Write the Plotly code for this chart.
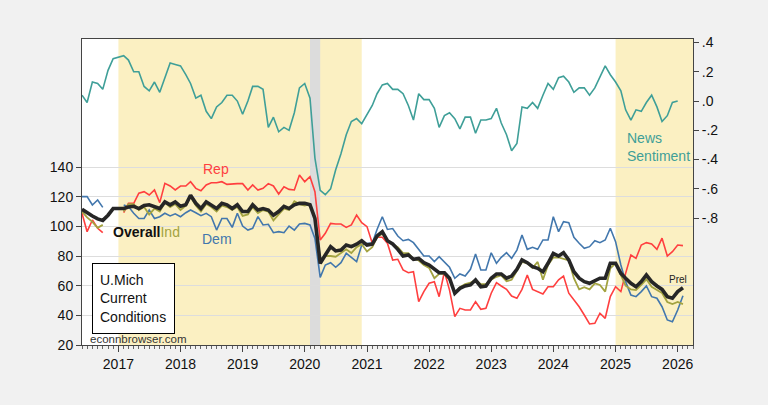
import plotly.graph_objects as go
import pandas as pd

months = pd.date_range("2016-06-01", "2026-02-01", freq="MS")

overall = [111.5, 109, 107, 105, 104, 107.5, 112, 112, 112, 113, 113.5, 112, 114, 114.5, 113.5, 112,
           116.5, 114.5, 116.5, 113.5, 114.5, 121, 115.5, 112, 116.5, 114.5, 112, 115.5, 114.5, 112,
           114.5, 110, 110, 114.5, 111, 112, 111, 107.5, 110, 113.5, 112, 114.5, 115.5, 115.5, 114.5,
           105.4, 75, 80.7, 86.3, 83.4, 84, 87.4, 86.3, 88, 90.3, 87.4, 88, 93.5, 96.4, 90.3, 88.1,
           84.5, 80, 80.7, 77.8, 78.4, 75.5, 73.9, 71, 68.7, 68.7, 65, 54.9, 58.2, 59.8, 60.5, 63.8,
           59.3, 59.8, 65, 67.9, 67.9, 65, 66.5, 71, 77.3, 75.5, 72.8, 71.7, 69.4, 75.1, 81.8, 80,
           82.2, 77.3, 69.4, 65, 62.7, 61.6, 63.4, 65, 65, 75.1, 75.1, 68.3, 65, 61.6, 59.3, 62.7,
           67.2, 62.7, 59.8, 57.5, 52.6, 51.5, 56, 58.6]

ind = [110, 106, 103, 99, 101, None, None, None, 110, 115, 115, 111, 113, 108, 112, 110,
       116, 113, 115, 111, 114, 120, 114, 110, 115, 113, 110, 114, 113, 111,
       113, 107, 108, 113, 109, 111, 110, 104, 108, 112, 111, 117, 115, 114, 115,
       106, 78, 80, 80, 79.5, 82, 84.5, 82, 86, 88, 83, 86, 92.6, 95, 90, 88,
       86, 82, 82, 78, 77, 74, 72, 65, 68, 68, 64, 55, 59, 61, 62, 64,
       61, 61, 64, 66, 67, 63, 64, 70, 76, 75, 72, 76, 64, 74, 79, 79,
       78, 77, 65, 57.5, 59, 57.5, 61.6, 60.5, 56, 71.7, 75, 67, 60, 57.5, 57, 60.5,
       64.3, 59.3, 57, 55, 49, 47.6, 49, 47.6]

rep = [108.8, 96.4, 104.3, 98.7, 95.7, None, None, None, 109.2, 115.5, 115.5, 122.3, 123.4, 121.1, 124.5, 116,
       129, 127.2, 124.5, 127.2, 127.2, 130.1, 125.6, 124, 127.9, 129.4, 129.4, 130.1, 128.3, 128.8,
       128.8, 128.8, 124.5, 127.9, 124.5, 125.6, 128.8, 127.2, 121.8, 126.6, 124.9, 124.5, 134.6, 130.1, 133.5,
       123.4, 90.8, 95.3, 102, 101.6, 101.6, 99.3, 100.9, 107.6, 102.5, 99.8, 88.6, 92.6, 92.6, 88.6, 77.3,
       77.8, 70.6, 68.7, 69.4, 49.2, 56, 61.6, 62.7, 52.6, 69.4, 57, 39.1, 44.7, 43.6, 43.6, 49.2,
       44.1, 44.7, 54.9, 62, 59.8, 57.5, 53, 51.5, 57.5, 67.2, 57.5, 56, 54.4, 59.3, 59.3, 64,
       66.5, 54.9, 50.3, 45.8, 40.2, 34.2, 34.6, 41.4, 38, 52.6, 59.3, 56, 68.3, 80.7, 78.4, 87.4,
       89, 88.1, 84.5, 92, 80, 82.9, 87.4, 87]

dem = [120, 120, 114.4, 117.8, 112.8, None, None, None, 114.4, 113.3, 108.8, 105.3, 105.3, 111, 105.3, 106.5,
       108.8, 107, 108.4, 106.5, 109.2, 111, 109.2, 107.2, 108.8, 106.5, 97.5, 105.3, 105.3, 99.3,
       108.8, 100.2, 97.5, 98.7, 106.5, 100.9, 101.4, 95.7, 96.4, 95.7, 100.2, 97.5, 101.6, 102, 100.9,
       91.9, 65.6, 73.9, 75.5, 72.4, 75.5, 81.8, 79.1, 76.2, 87.4, 88.6, 88.6, 97.9, 106.5, 97.9, 98.5,
       93.5, 90.3, 91.2, 89, 84.5, 80, 80, 76.2, 79.5, 76.2, 72.4, 65, 67.9, 66.5, 71, 81.3,
       70.6, 70.6, 82.2, 75.1, 79.1, 82.2, 78.4, 84, 94.2, 84.5, 85.9, 84.5, 90.8, 90.8, 106.5, 96.4,
       103.1, 102.5, 92.6, 88.6, 85.2, 86.3, 90.3, 89, 90.8, 98.7, 89.7, 73.9, 62.7, 53.7, 52.6, 56,
       59.8, 52.6, 51.5, 45.8, 36.9, 35.7, 43.6, 53.2]

news = [0.04, -0.01, 0.13, 0.12, 0.08, 0.21, 0.29, 0.30, 0.31, 0.28, 0.20, 0.20, 0.10, 0.07, 0.13, 0.06,
        0.16, 0.26, 0.25, 0.24, 0.18, 0.12, 0.02, 0.04, -0.07, -0.12, -0.04, -0.01, 0.04, 0.04,
        0.00, -0.09, 0.00, 0.10, 0.10, 0.08, -0.18, -0.11, -0.21, -0.18, -0.20, -0.08, 0.09, 0.12, 0.02,
        -0.39, -0.61, -0.64, -0.60, -0.47, -0.36, -0.23, -0.14, -0.12, -0.155, -0.09, -0.03, 0.05, 0.11, 0.12, 0.08,
        0.08, 0.05, -0.03, -0.13, 0.05, 0.01, 0.01, -0.05, -0.18, -0.10, -0.08, -0.12, -0.19, -0.11, -0.11, -0.22,
        -0.13, -0.13, -0.12, -0.05, -0.15, -0.23, -0.34, -0.29, -0.04, -0.05, -0.01, -0.05, 0.04, 0.12, 0.08, 0.16,
        0.17, 0.13, 0.06, 0.09, 0.09, 0.04, 0.09, 0.16, 0.24, 0.18, 0.13, 0.07, -0.06, -0.13, -0.06, -0.07,
        -0.01, 0.04, -0.04, -0.14, -0.10, -0.01, 0.00, None]

left_ticks = [20, 40, 60, 80, 100, 120, 140]
right_ticks = [0.4, 0.2, 0.0, -0.2, -0.4, -0.6, -0.8]
right_labels = [".4", ".2", ".0", "-.2", "-.4", "-.6", "-.8"]

C_TEAL = "#3f9f98"
C_RED = "#ff3f3f"
C_BLUE = "#4277ad"
C_OLIVE = "#a3a341"
C_BLACK = "#262626"
BG = "#f1f1f1"
FONT = "Liberation Sans, Arial, sans-serif"

fig = go.Figure()
fig.add_trace(go.Scatter(x=months, y=dem, mode="lines", line=dict(color=C_BLUE, width=1.6), connectgaps=False))
fig.add_trace(go.Scatter(x=months, y=rep, mode="lines", line=dict(color=C_RED, width=1.6), connectgaps=False))
fig.add_trace(go.Scatter(x=months, y=ind, mode="lines", line=dict(color=C_OLIVE, width=1.8), connectgaps=False))
fig.add_trace(go.Scatter(x=months, y=overall, mode="lines", line=dict(color=C_BLACK, width=3.6)))
fig.add_trace(go.Scatter(x=months, y=news, mode="lines", line=dict(color=C_TEAL, width=1.6), yaxis="y2"))

shapes = [
    dict(type="rect", xref="x", yref="paper", x0="2017-01-01", x1="2020-12-01", y0=0, y1=1,
         fillcolor="#fbf0c2", line=dict(width=0), layer="below"),
    dict(type="rect", xref="x", yref="paper", x0="2025-01-01", x1="2026-04-01", y0=0, y1=1,
         fillcolor="#fbf0c2", line=dict(width=0), layer="below"),
    dict(type="rect", xref="x", yref="paper", x0="2020-02-01", x1="2020-04-01", y0=0, y1=1,
         fillcolor="#dcdcdc", line=dict(width=0), layer="below"),
]

def label(text, x, y, color, size=14, xanchor="center", **kw):
    d = dict(text=text, x=x, y=y, xref="paper", yref="paper", showarrow=False,
             xanchor=xanchor, yanchor="middle", font=dict(color=color, size=size, family=FONT))
    d.update(kw)
    return d

annotations = [
    label("Rep", 0.2185, 0.575, C_RED),
    label("Dem", 0.221, 0.346, C_BLUE),
    label("<b>Overall</b><span style='color:%s'>Ind</span>" % C_OLIVE, 0.106, 0.370, "#111111"),
    label("News<br>Sentiment", 0.889, 0.647, C_TEAL, xanchor="left", align="left"),
    label("Prel", 0.976, 0.215, "#222222", size=10),
    dict(text="U.Mich<br>Current<br>Conditions", x=0.017, y=0.267, xref="paper", yref="paper",
         xanchor="left", yanchor="top", align="left", valign="middle", showarrow=False,
         width=67, height=55, borderpad=7, bordercolor="#000000", borderwidth=1, bgcolor="#ffffff",
         font=dict(color="#111111", size=14, family=FONT)),
    label("econnbrowser.com", 0.0098, 0.0196, "#333333", size=11.5, xanchor="left"),
]

fig.update_layout(
    width=768, height=405,
    margin=dict(l=82, r=75, t=39, b=60),
    paper_bgcolor=BG, plot_bgcolor="#ffffff",
    showlegend=False,
    font=dict(family=FONT, size=14, color="#111111"),
    shapes=shapes, annotations=annotations,
    xaxis=dict(type="date", range=["2016-06-01", "2026-04-01"], tickformat="%Y",
               tick0="2017-01-01", dtick="M12", ticks="outside", ticklen=6, tickcolor="#444",
               showgrid=False, showline=True, linecolor="#444", linewidth=1, mirror=True,
               minor=dict(dtick="M1", ticks="outside", ticklen=3, tickcolor="#666", showgrid=False),
               tickfont=dict(size=14), zeroline=False),
    yaxis=dict(range=[20, 226.3], tickvals=left_ticks, ticks="outside", ticklen=5, tickcolor="#444",
               showgrid=True, gridcolor="#dddddd", gridwidth=1, showline=True, linecolor="#444",
               zeroline=False, tickfont=dict(size=14)),
    yaxis2=dict(range=[-1.667, 0.424], overlaying="y", side="right", tickvals=right_ticks,
                ticktext=right_labels, ticks="outside", ticklen=5, tickcolor="#444", showgrid=False,
                showline=True, linecolor="#444", zeroline=False, tickfont=dict(size=14)),
)

post = ("document.documentElement.style.margin='0';document.body.style.margin='0';"
        "document.body.style.padding='0';document.body.style.background='%s';"
        "document.documentElement.style.background='%s';document.body.style.overflow='hidden';" % (BG, BG))
fig.write_html("out.html", post_script=post, config={"displayModeBar": False})
